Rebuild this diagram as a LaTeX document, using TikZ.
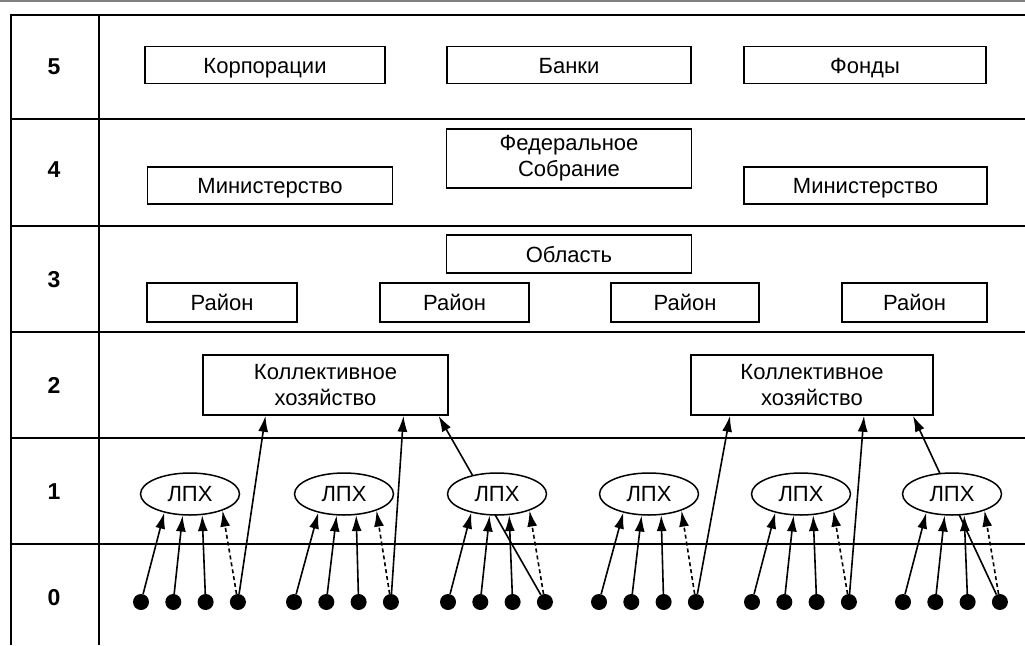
\documentclass[tikz,border=0pt]{standalone}
\usepackage{fontspec}
\setmainfont{Liberation Sans}
\usetikzlibrary{arrows.meta,shapes.geometric}
\tikzset{
  unitbox/.style = {shape=rectangle, draw, line width=1.5pt, align=center,
                    inner sep=0pt, minimum height=37pt,
                    font=\fontsize{22}{26}\selectfont},
  onerow/.style  = {unitbox, text height=16pt, text depth=0pt},
  lph/.style     = {ellipse, draw, fill=white, line width=1.5pt,
                    minimum width=99pt, minimum height=42pt, inner sep=0pt,
                    font=\fontsize{22}{26}\selectfont},
  hh/.style      = {circle, fill=black, minimum size=16pt, inner sep=0pt},
  levelno/.style = {font=\bfseries\fontsize{23}{26}\selectfont},
  grid/.style    = {line width=2.2pt},
  up/.style      = {-{Latex[length=16pt,width=10pt]}, line width=1.6pt},
  maybe/.style   = {up, dash pattern=on 4pt off 3pt}
}

\begin{document}
\begin{tikzpicture}
  [
    x = 1pt,
    y = -1pt
  ]
  \useasboundingbox (0,0) rectangle (1025,645);

  % table
  \draw[gray, line width=2.5pt] (0,1) -- (1025,1);
  \foreach \y in {15,119,226,332,438,544}
    \draw[grid] (10,\y) -- (1025,\y);
  \draw[grid] (11,14) -- (11,645);
  \draw[grid] (99,14) -- (99,645);
  \foreach \n/\y in {5/67,4/170,3/280,2/385,1/492,0/598}
    \node[levelno] (lv\n) at (54,\y) {\n};

  % level 5
  \node[onerow, minimum width=240pt] (korp) at (265,65) {Корпорации};
  \node[onerow, minimum width=244pt] (bank) at (569,65) {Банки};
  \node[onerow, minimum width=242pt] (fond) at (865,65) {Фонды};

  % level 4
  \node[onerow, minimum width=245pt] (min1) at (270,185.5) {Министерство};
  \node[unitbox, minimum width=245pt, minimum height=59pt] (fs)
    at (569,158.5) {Федеральное\\Собрание};
  \node[onerow, minimum width=243pt] (min2) at (865.5,185.5) {Министерство};

  % level 3
  \node[onerow, minimum width=245pt, minimum height=38pt] (obl) at (569,254) {Область};
  \foreach \i/\x/\w in {1/222/150,2/454.5/149,3/685/148,4/914.5/145}
    \node[onerow, minimum width=\w pt, minimum height=39pt] (ray\i)
      at (\x,302.5) {Район};

  % level 2
  \node[unitbox, minimum width=245pt, minimum height=60pt] (kx1)
    at (325.5,385) {Коллективное\\хозяйство};
  \node[unitbox, minimum width=242pt, minimum height=60pt] (kx2)
    at (812,385) {Коллективное\\хозяйство};

  % level 0
  \foreach \g/\x in {1/141,2/294,3/448,4/599,5/752,6/903}
    \foreach \k in {1,...,4}
      \node[hh] (d\g\k) at ({\x+32.3*(\k-1)},602) {};

  % households to farms
  \draw[up] (d14) -- ([xshift=-60pt]kx1.south);
  \draw[up] (d24) -- ([xshift=78pt]kx1.south);
  \draw[up] (d34) -- ([xshift=113pt]kx1.south);
  \draw[up] (d44) -- ([xshift=-82pt]kx2.south);
  \draw[up] (d54) -- ([xshift=52pt]kx2.south);
  \draw[up] (d64) -- ([xshift=101pt]kx2.south);

  % level 1
  \foreach \g/\x in {1/190,2/344,3/497,4/649,5/801,6/952}
  {
    \node[lph] (e\g) at (\x,494) {ЛПХ};
    \draw[up] (d\g1) -- (e\g.216);
    \draw[up] (d\g2) -- (e\g.251);
    \draw[up] (d\g3) -- (e\g.300);
    \draw[maybe] (d\g4) -- (e\g.333);
  }
\end{tikzpicture}
\end{document}
